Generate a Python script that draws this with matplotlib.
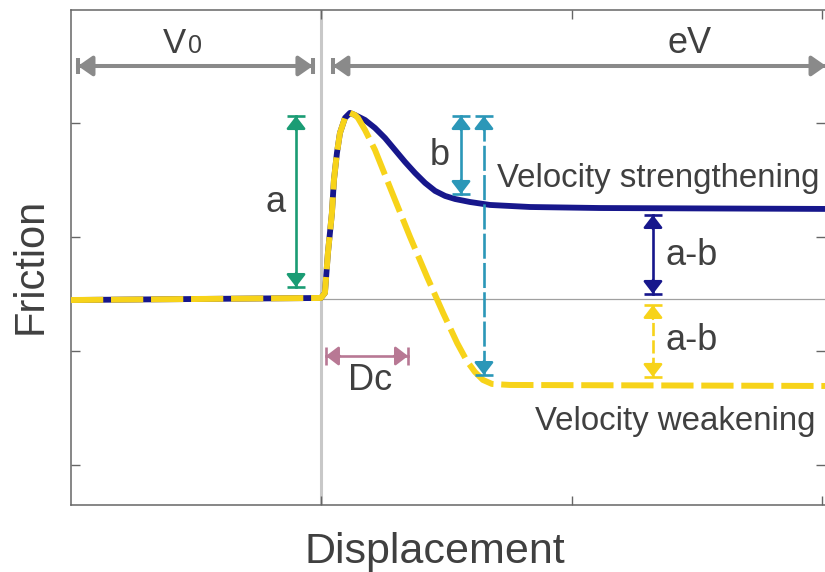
import matplotlib.pyplot as plt
import numpy as np

##############################################################################
### Data (displacement units, friction units) ###
# common part: steady sliding at V0, then the direct effect after the step
shared_x = [0.000, 0.500, 0.998, 1.014, 1.026, 1.042, 1.050, 1.062, 1.074, 1.094, 1.114, 1.134]
shared_y = [2.447, 2.456, 2.465, 2.509, 2.860, 3.211, 3.500, 3.737, 3.912, 4.044, 4.088, 4.070]

# velocity strengthening branch
strength_x = [1.174, 1.214, 1.254, 1.294, 1.334, 1.374, 1.414, 1.454, 1.494,
              1.534, 1.593, 1.673, 1.833, 2.113, 3.015]
strength_y = [4.026, 3.956, 3.868, 3.763, 3.658, 3.561, 3.474, 3.404, 3.360,
              3.333, 3.307, 3.281, 3.263, 3.254, 3.246]

# velocity weakening branch
weak_x = [1.146, 1.174, 1.214, 1.254, 1.294, 1.354, 1.422, 1.486, 1.542,
          1.581, 1.613, 1.645, 1.681, 1.753, 3.015]
weak_y = [4.044, 3.939, 3.763, 3.544, 3.325, 3.000, 2.649, 2.333, 2.070,
          1.912, 1.816, 1.746, 1.711, 1.702, 1.693]

baseline = 2.456
step_x = 1.0

x_ticks = [1, 2, 3]
y_ticks = [1, 2, 3, 4]

##############################################################################
### Style ###
plt.rcParams['font.family'] = ['Liberation Sans', 'DejaVu Sans']
TXT = '#404040'
NAVY = '#17178c'
YEL = '#f7d31a'
GREEN = '#1a9c74'
TEAL = '#2b97b8'
PINK = '#b87894'
GREY = '#8a8a8a'

fig = plt.figure(figsize=(8.25, 5.72), dpi=100)
ax = fig.add_axes([71/825, 1 - 505/572, (824.5 - 71)/825, (505 - 10)/572])
ax.set_xlim(0, 3.009)
ax.set_ylim(0.649, 4.991)
ax.set_xticks(x_ticks)
ax.set_yticks(y_ticks)
ax.tick_params(direction='in', top=True, right=True, length=6.5, width=1.0,
               color='#666666', labelleft=False, labelbottom=False)
for s in ax.spines.values():
    s.set_color('#666666')
    s.set_linewidth(1.1)
ax.spines['right'].set_visible(False)

# reference lines
ax.axvline(step_x, color='#c8c8c8', lw=2.2, zorder=1)
ax.axhline(baseline, color='#a0a0a0', lw=0.9, zorder=1)

# curves
sx = np.concatenate([shared_x, strength_x])
sy = np.concatenate([shared_y, strength_y])
wx = np.concatenate([shared_x, weak_x])
wy = np.concatenate([shared_y, weak_y])
ax.plot(sx, sy, color=NAVY, lw=4.2, solid_joinstyle='round', zorder=3)
ax.plot(wx, wy, color=YEL, lw=4.3, dashes=(5.4, 1.3), dash_capstyle='butt',
        dash_joinstyle='round', zorder=4)


def dim_arrow(x0, y0, x1, y1, color, lw=1.9, ls='-', bar=12.5, hl=0.38, hw=0.29,
              heads=(True, True), bars=(True, True)):
    ax.plot([x0, x1], [y0, y1], color=color, lw=lw, linestyle=ls, zorder=5,
            clip_on=False)
    vertical = (x0 == x1)
    mk = '_' if vertical else '|'
    for (x, y), b in zip([(x0, y0), (x1, y1)], bars):
        if b:
            ax.plot([x], [y], marker=mk, ms=bar, mew=lw, color=color, zorder=6,
                    clip_on=False)
    ends = [((x0, y0), (x1, y1)), ((x1, y1), (x0, y0))]
    for (tip, other), h in zip(ends, heads):
        if not h:
            continue
        if vertical:
            off = (0, -10) if tip[1] > other[1] else (0, 10)
        else:
            off = (-10, 0) if tip[0] > other[0] else (10, 0)
        ax.annotate('', xy=tip, xytext=off, textcoords='offset points',
                    annotation_clip=False,
                    arrowprops=dict(arrowstyle='-|>,head_length=%g,head_width=%g' % (hl, hw),
                                    mutation_scale=20, color=color, lw=lw,
                                    shrinkA=0, shrinkB=0), zorder=6)


# V0 / eV
dim_arrow(0.028, 4.500, 0.966, 4.500, GREY, lw=2.9, bar=11.5, hl=0.43, hw=0.3)
dim_arrow(1.046, 4.500, 3.015, 4.500, GREY, lw=2.9, bar=11.5, hl=0.43, hw=0.3,
          bars=(True, False))
ax.text(0.367, 4.614, 'V', fontsize=25, color=TXT, ha='left', va='baseline')
ax.text(0.467, 4.614, '0', fontsize=18, color=TXT, ha='left', va='baseline')
ax.text(2.472, 4.614, 'eV', fontsize=26, color=TXT, ha='center', va='baseline')

# a
dim_arrow(0.8986, 4.061, 0.8986, 2.561, GREEN)
ax.text(0.815, 3.219, 'a', fontsize=26, color=TXT, ha='center', va='baseline')

# b
dim_arrow(1.5575, 4.061, 1.5575, 3.377, TEAL)
ax.text(1.474, 3.632, 'b', fontsize=26, color=TXT, ha='center', va='baseline')
dim_arrow(1.649, 4.061, 1.649, 1.789, TEAL, ls=(0, (9.5, 1.6)))

# a-b
dim_arrow(2.324, 3.193, 2.324, 2.500, NAVY)
ax.text(2.376, 2.754, 'a-b', fontsize=26, color=TXT, ha='left', va='baseline')
dim_arrow(2.324, 2.404, 2.324, 1.772, YEL, ls=(0, (5.0, 1.6)))
ax.text(2.376, 2.009, 'a-b', fontsize=26, color=TXT, ha='left', va='baseline')

# Dc
dim_arrow(1.018, 1.956, 1.346, 1.956, PINK)
ax.text(1.194, 1.658, 'Dc', fontsize=26, color=TXT, ha='center', va='baseline')

ax.text(1.701, 3.439, 'Velocity strengthening', fontsize=23.8, color=TXT,
        ha='left', va='baseline')
ax.text(1.853, 1.307, 'Velocity weakening', fontsize=23.8, color=TXT,
        ha='left', va='baseline')

fig.text(435/825, 1 - 563/572, 'Displacement', fontsize=31, color=TXT,
         ha='center', va='baseline')
fig.text(31/825, 1 - 266/572, 'Friction', fontsize=30, color=TXT,
         ha='center', va='center', rotation=90)

fig.savefig('out.png', dpi=100)
